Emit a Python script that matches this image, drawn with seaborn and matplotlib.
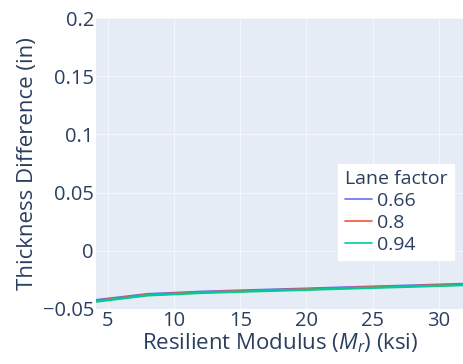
import matplotlib
matplotlib.use("Agg")
import matplotlib.pyplot as plt
import seaborn as sns
import pandas as pd

# Resilient modulus (ksi) sample points
mr_ksi = [4, 8, 12, 16, 20, 24, 28, 32]
# Thickness difference (in) per lane factor
diff_066 = [-0.0425, -0.0372, -0.0352, -0.0338, -0.0325, -0.0311, -0.0298, -0.0284]
diff_080 = [-0.0432, -0.0378, -0.0357, -0.0343, -0.0330, -0.0316, -0.0303, -0.0289]
diff_094 = [-0.0438, -0.0383, -0.0362, -0.0348, -0.0335, -0.0321, -0.0308, -0.0294]
lane_factors = ["0.66", "0.8", "0.94"]
colors = ["#636efa", "#EF553B", "#00cc96"]

frames = []
for lf, vals in zip(lane_factors, [diff_066, diff_080, diff_094]):
    frames.append(pd.DataFrame({"Mr": mr_ksi, "diff": vals, "Lane factor": lf}))
df = pd.concat(frames, ignore_index=True)

sns.set_theme(style="darkgrid", rc={
    "axes.facecolor": "#E5ECF6",
    "grid.color": "#f3f6fb",
    "grid.linewidth": 0.8,
})
plt.rcParams["font.family"] = ["Open Sans", "DejaVu Sans"]
plt.rcParams["mathtext.fontset"] = "custom"
plt.rcParams["mathtext.it"] = "Open Sans:italic"
plt.rcParams["mathtext.rm"] = "Open Sans"
text_color = "#2a3f5f"

fig = plt.figure(figsize=(4.64, 3.64), dpi=100)
ax = fig.add_axes([96 / 464, 1 - 309 / 364, 1 - 96 / 464, 291 / 364])

sns.lineplot(data=df, x="Mr", y="diff", hue="Lane factor", palette=colors,
             linewidth=1.7, ax=ax, legend=True)

ax.set_xlim(4.1, 31.9)
ax.set_ylim(-0.05, 0.2)
ax.set_xticks([5, 10, 15, 20, 25, 30])
ax.set_yticks([-0.05, 0, 0.05, 0.1, 0.15, 0.2])
ax.set_yticklabels(["\u22120.05", "0", "0.05", "0.1", "0.15", "0.2"])
ax.tick_params(axis="both", colors=text_color, labelsize=14.5, length=0, pad=1.5)
ax.set_xlabel("Resilient Modulus ($M_r$) (ksi)", color=text_color, fontsize=16, labelpad=0)
ax.set_ylabel("Thickness Difference (in)", color=text_color, fontsize=16, labelpad=3)
for s in ax.spines.values():
    s.set_visible(False)

leg = ax.legend(title="Lane factor", loc="upper left", bbox_to_anchor=(0.658, 0.5),
                frameon=True, fontsize=14, title_fontsize=14, handlelength=1.4,
                handletextpad=0.25, labelspacing=0.2, borderpad=0.33,
                borderaxespad=0, alignment="left")
leg.get_frame().set_facecolor("white")
leg.get_frame().set_edgecolor("white")
leg.get_frame().set_alpha(1.0)
leg.get_frame().set_boxstyle("square", pad=0)
for t in leg.get_texts():
    t.set_color(text_color)
leg.get_title().set_color(text_color)
for line in leg.get_lines():
    line.set_linewidth(1.2)

fig.savefig("out.png", dpi=100)
